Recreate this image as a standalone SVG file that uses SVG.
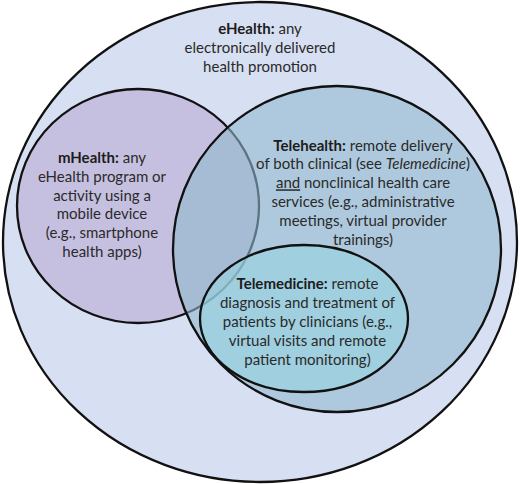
<svg xmlns="http://www.w3.org/2000/svg" width="520" height="484" viewBox="0 0 520 484">
<style>
.ring{stroke:#111;stroke-width:2.3}
text{font-family:Lato,"Open Sans","Liberation Sans",sans-serif;font-size:15px;fill:#2a2a2a;text-anchor:middle}
.b{font-weight:bold;fill:#1c1c1c}
.i{font-style:italic}
.u{text-decoration:underline}
</style>
<rect width="520" height="484" fill="#ffffff"/>
<g id="ehealth">
<ellipse class="ring" cx="260" cy="242" rx="257" ry="240" fill="#d7dff2"/>
<text x="260" y="34"><tspan class="b">eHealth:</tspan> any</text>
<text x="260" y="53">electronically delivered</text>
<text x="260" y="72">health promotion</text>
</g>
<g id="mhealth">
<ellipse class="ring" cx="138" cy="206" rx="121" ry="117" fill="#c6c0e0"/>
</g>
<g id="telehealth">
<ellipse class="ring" cx="337" cy="249" rx="164" ry="163" fill="#90bacd" fill-opacity="0.59"/>
</g>
<g id="telemedicine">
<ellipse class="ring" cx="304" cy="318.5" rx="104" ry="73.5" fill="#96d3e1" fill-opacity="0.6"/>
</g>
<g id="mhealth-label">
<text x="102" y="163.3"><tspan class="b">mHealth:</tspan> any</text>
<text x="102" y="182">eHealth program or</text>
<text x="102" y="200.7">activity using a</text>
<text x="102" y="219.4">mobile device</text>
<text x="102" y="238.1">(e.g., smartphone</text>
<text x="102" y="256.8">health apps)</text>
</g>
<g id="telehealth-label">
<text x="363" y="150.5"><tspan class="b">Telehealth:</tspan> remote delivery</text>
<text x="363" y="169.4">of both clinical (see <tspan class="i">Telemedicine</tspan>)</text>
<text x="363" y="188.3"><tspan class="u">and</tspan> nonclinical health care</text>
<text x="363" y="207.2">services (e.g., administrative</text>
<text x="363" y="226.1">meetings, virtual provider</text>
<text x="363" y="245">trainings)</text>
</g>
<g id="telemedicine-label">
<text x="307.5" y="289.3"><tspan class="b">Telemedicine:</tspan> remote</text>
<text x="307.5" y="308.2">diagnosis and treatment of</text>
<text x="307.5" y="327.1">patients by clinicians (e.g.,</text>
<text x="307.5" y="346">virtual visits and remote</text>
<text x="307.5" y="364.9">patient monitoring)</text>
</g>
</svg>
